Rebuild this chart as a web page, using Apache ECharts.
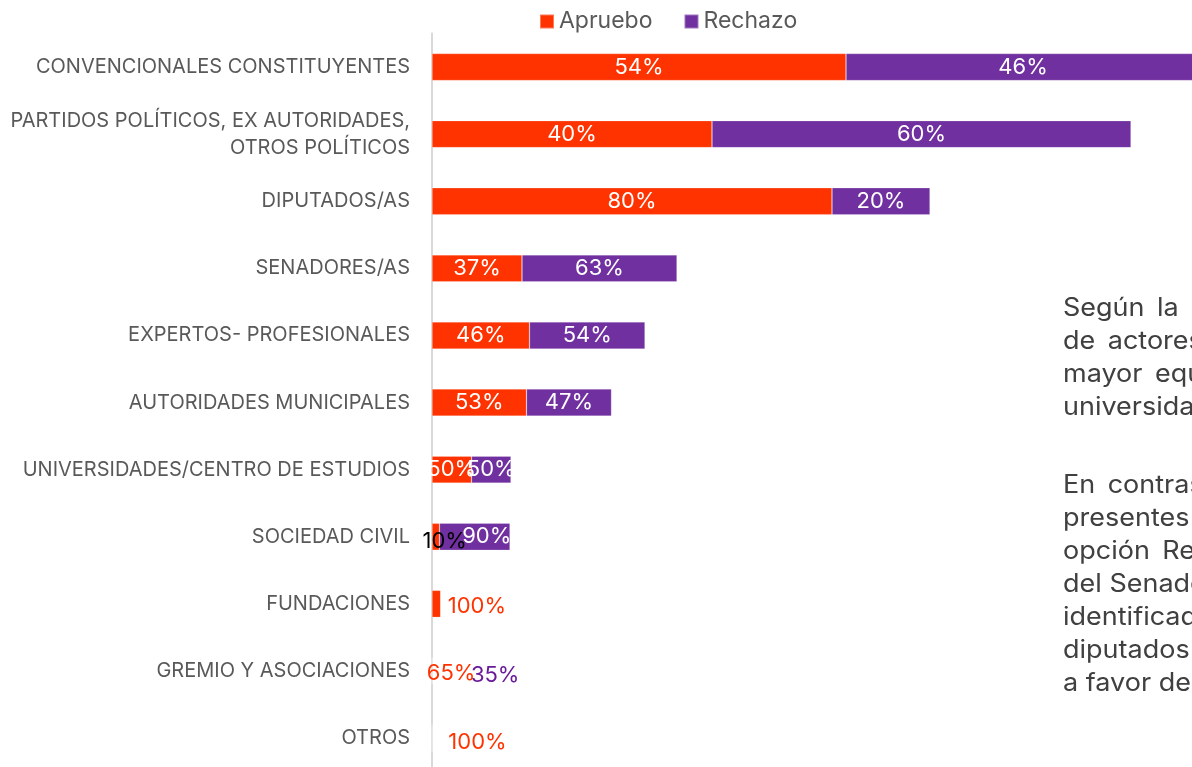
<!DOCTYPE html>
<html>
<head>
<meta charset="utf-8">
<script src="https://cdn.jsdelivr.net/npm/echarts@6/dist/echarts.min.js"></script>
<style>
  html, body { margin: 0; padding: 0; background: #fff; }
  #chart { width: 1192px; height: 767px; }
</style>
</head>
<body>
<div id="chart"></div>
<script>
// categorias (de arriba hacia abajo)
const categorias = [
  'CONVENCIONALES CONSTITUYENTES',
  'PARTIDOS POLÍTICOS, EX AUTORIDADES,\nOTROS POLÍTICOS',
  'DIPUTADOS/AS',
  'SENADORES/AS',
  'EXPERTOS- PROFESIONALES',
  'AUTORIDADES MUNICIPALES',
  'UNIVERSIDADES/CENTRO DE ESTUDIOS',
  'SOCIEDAD CIVIL',
  'FUNDACIONES',
  'GREMIO Y ASOCIACIONES',
  'OTROS'
];
const apruebo = [41.4, 28.0, 40.0, 9.0, 9.75, 9.45, 3.95, 0.75, 0.87, 0.013, 0.01];
const rechazo = [35.4, 41.9, 9.8, 15.5, 11.55, 8.5, 3.95, 7.05, 0, 0.007, 0];

const NARANJO = '#FF3300';
const MORADO = '#7030A0';
const FUENTE = 'Inter, "Noto Sans", sans-serif';

// porcentaje de cada tramo sobre el total de la fila
function pct(arr, i) {
  const total = apruebo[i] + rechazo[i];
  return total > 0 ? Math.round(arr[i] / total * 100) + '%' : '';
}

// etiquetas que en el original estan movidas a mano
const etiqAprueba = {
  7: { color: '#000', offset: [9, 5] },
  8: { position: 'right', distance: 7, color: NARANJO, offset: [0, 3] },
  9: { position: 'inside', color: NARANJO, offset: [19, 2] },
  10: { position: 'right', distance: 16, color: NARANJO, offset: [0, 4] }
};
const etiqRechaza = {
  7: { offset: [12, 0] },
  9: { position: 'inside', color: '#6A1B9A', offset: [63, 4] }
};

function armarData(arr, especiales) {
  return arr.map((v, i) => {
    const item = { value: v };
    if (especiales[i]) item.label = especiales[i];
    return item;
  });
}

function serie(nombre, arr, color, especiales) {
  return {
    name: nombre,
    type: 'bar',
    stack: 'total',
    barWidth: 27,
    clip: false,
    itemStyle: { color: color, borderColor: 'rgba(255,255,255,0.35)', borderWidth: 0.6 },
    label: {
      show: true,
      position: 'inside',
      color: '#fff',
      fontFamily: FUENTE,
      fontSize: 22,
      formatter: p => arr[p.dataIndex] > 0 ? pct(arr, p.dataIndex) : ''
    },
    data: armarData(arr, especiales)
  };
}

const myChart = echarts.init(document.getElementById('chart'));

// texto del costado derecho (justificado y cortado por el borde, igual que en la lamina)
const lineasTexto = [
  ['Según \u2009la', 308],
  ['de \u2009actores', 341],
  ['mayor \u2009equilibrio', 374],
  ['universidades', 407],
  ['En \u2009contraste,', 485],
  ['presentes', 518],
  ['opción \u2009Rechazo', 551],
  ['del Senado', 584],
  ['identificados', 617],
  ['diputados', 650],
  ['a favor del', 683]
];

myChart.setOption({
  backgroundColor: '#fff',
  animation: false,
  legend: {
    left: 534,
    top: 5,
    itemWidth: 14,
    itemHeight: 14,
    itemGap: 31,
    icon: 'rect',
    textStyle: { color: '#595959', fontSize: 23, fontFamily: FUENTE },
    data: ['Apruebo', 'Rechazo']
  },
  grid: {
    left: 432,
    top: 33.5,
    width: 770,
    height: 738.1,
    containLabel: false,
    outerBoundsMode: 'none'
  },
  xAxis: {
    type: 'value',
    min: 0,
    max: 77,
    show: false
  },
  yAxis: {
    type: 'category',
    inverse: true,
    data: categorias,
    axisLine: { show: true, lineStyle: { color: '#d9d9d9', width: 2 } },
    axisTick: { show: false },
    axisLabel: {
      margin: 22,
      color: '#595959',
      fontFamily: FUENTE,
      fontSize: 20,
      lineHeight: 27,
      align: 'right'
    }
  },
  series: [
    serie('Apruebo', apruebo, NARANJO, etiqAprueba),
    serie('Rechazo', rechazo, MORADO, etiqRechaza)
  ],
  graphic: lineasTexto.map(l => ({
    type: 'text',
    x: 1063,
    y: l[1],
    scaleX: 1.08,
    style: {
      text: l[0],
      fill: '#404040',
      font: '25px ' + FUENTE,
      verticalAlign: 'middle'
    }
  }))
});
</script>
</body>
</html>
